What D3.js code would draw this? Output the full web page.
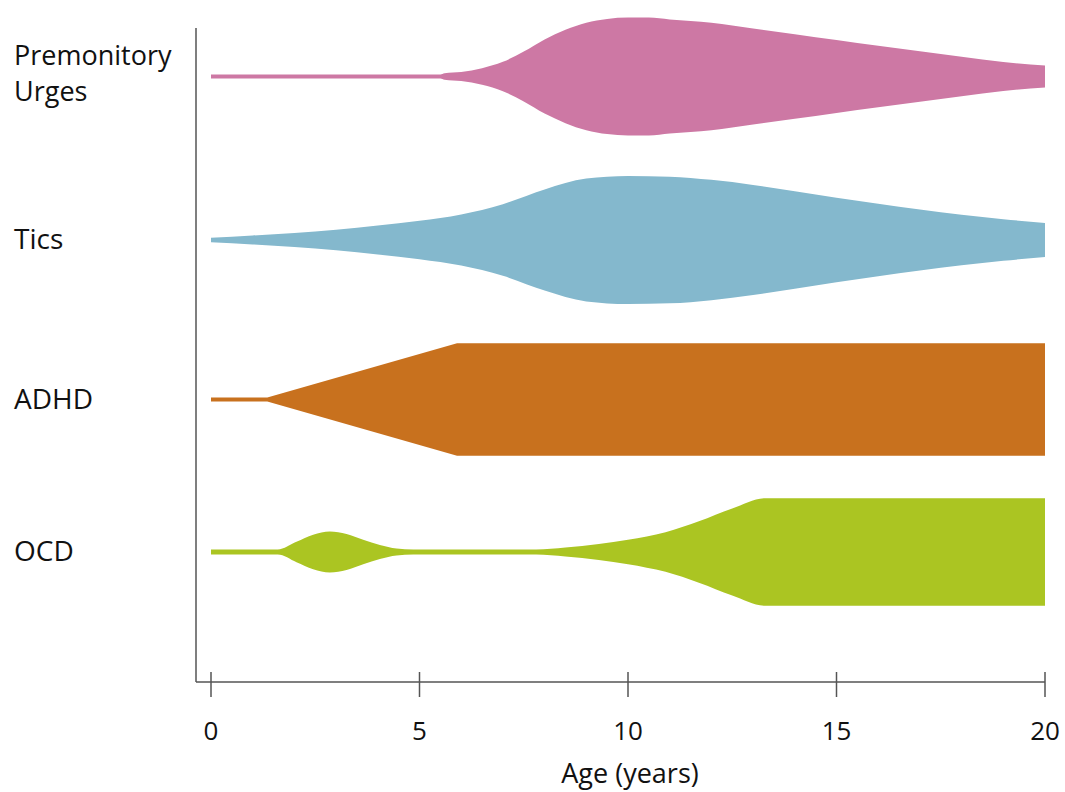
<!DOCTYPE html>
<html>
<head>
<meta charset="utf-8">
<script src="https://cdn.jsdelivr.net/npm/d3@7"></script>
<style>
  html, body { margin: 0; padding: 0; background: #fff; }
  svg { display: block; }
  text { font-family: "Open Sans", "Noto Sans", sans-serif; fill: #111; font-weight: 500; }
</style>
</head>
<body>
<svg id="chart" width="1065" height="792"></svg>
<script>
// ---- data (relative frequency, 0-100, drawn as symmetric band half-width) ----
const categories = ["Premonitory Urges", "Tics", "ADHD", "OCD"];
const colors = ["#CD78A4", "#84B8CD", "#C8711E", "#ABC522"];
const xTicks = [0, 5, 10, 15, 20];
const xLabel = "Age (years)";

const urgesAges   = [0, 5.5, 5.6, 6.0, 6.5, 7.0, 7.5, 8.0, 8.5, 9.0, 9.5, 10, 10.5, 11, 12, 13, 14, 15, 16, 17, 18, 19, 20];
const urgesValues = [3, 3, 5, 7, 13, 23, 39, 58, 73, 84, 90, 92, 92, 89, 84, 75, 66, 57, 48, 39.5, 31, 22.5, 17];

const ticsAges   = [0, 1, 2, 3, 4, 5, 6, 7, 8, 9, 10, 11, 12, 13, 14, 15, 16, 17, 18, 19, 20];
const ticsValues = [3.5, 7, 11, 16, 22.5, 30, 40, 56, 79, 96, 100, 99, 94, 86, 76, 66, 56.5, 47.5, 39.5, 32.5, 26.5];

const adhdAges   = [0, 1.35, 5.9, 20];
const adhdValues = [3, 3, 88, 88];

const ocdAges   = [0, 1.6, 2.05, 2.45, 2.85, 3.25, 3.65, 4.05, 4.45, 4.85, 7.8, 8.5, 9.3, 10, 10.9, 11.7, 12.5, 13.3, 20];
const ocdValues = [4, 4, 16, 27, 32, 28, 19, 11, 5.5, 4, 4, 7, 12.5, 19, 31, 48, 68, 84, 84];

const seriesAges = [urgesAges, ticsAges, adhdAges, ocdAges];
const seriesValues = [urgesValues, ticsValues, adhdValues, ocdValues];

// ---- layout ----
const svg = d3.select("#chart");
const axisX0 = 196, axisY = 682, axisTop = 28;

const x = d3.scaleLinear().domain([0, 20]).range([211, 1045]);
const yCenter = d3.scaleOrdinal().domain(categories).range([76.5, 240, 399.5, 552]);
const w = d3.scaleLinear().domain([0, 100]).range([0, 64]);
const curves = [d3.curveMonotoneX, d3.curveMonotoneX, d3.curveLinear, d3.curveMonotoneX];

categories.forEach((cat, i) => {
  const data = seriesAges[i].map((a, j) => ({ age: a, v: seriesValues[i][j] }));
  const cy = yCenter(cat);
  const area = d3.area()
    .x(d => x(d.age))
    .y0(d => cy - w(d.v))
    .y1(d => cy + w(d.v))
    .curve(curves[i]);
  svg.append("path")
    .datum(data)
    .attr("d", area)
    .attr("fill", colors[i]);
});

// ---- axes ----
const axisColor = "#555";
svg.append("line")
  .attr("x1", axisX0).attr("x2", axisX0)
  .attr("y1", axisTop).attr("y2", axisY)
  .attr("stroke", axisColor).attr("stroke-width", 1.5);
svg.append("line")
  .attr("x1", axisX0).attr("x2", x(20))
  .attr("y1", axisY).attr("y2", axisY)
  .attr("stroke", axisColor).attr("stroke-width", 1.5);

const tickG = svg.selectAll("g.tick").data(xTicks).enter().append("g")
  .attr("class", "tick")
  .attr("transform", d => `translate(${x(d)},0)`);
tickG.append("line")
  .attr("y1", axisY - 10).attr("y2", axisY + 15)
  .attr("stroke", axisColor).attr("stroke-width", 1.5);
tickG.append("text")
  .attr("y", 740)
  .attr("text-anchor", "middle")
  .attr("font-size", 26)
  .text(d => d);

svg.append("text")
  .attr("x", (x(0) + x(20)) / 2 + 2)
  .attr("y", 783)
  .attr("text-anchor", "middle")
  .attr("font-size", 27)
  .text(xLabel);

// ---- category labels ----
categories.forEach((cat, i) => {
  const cy = yCenter(cat);
  const words = cat === "Premonitory Urges" ? ["Premonitory", "Urges"] : [cat];
  if (words.length === 2) {
    svg.append("text").attr("x", 14).attr("y", cy - 12).attr("font-size", 27).text(words[0]);
    svg.append("text").attr("x", 14).attr("y", cy + 24).attr("font-size", 27).text(words[1]);
  } else {
    svg.append("text").attr("x", 14).attr("y", cy + 9).attr("font-size", 28).text(words[0]);
  }
});
</script>
</body>
</html>
